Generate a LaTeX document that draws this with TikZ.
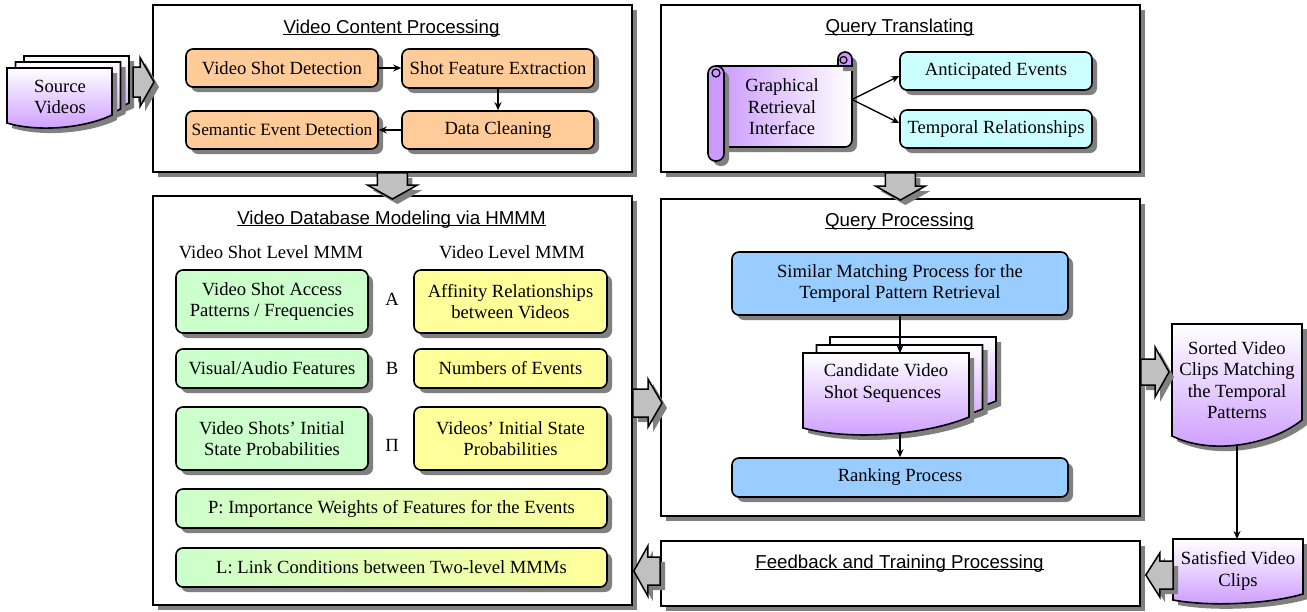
\documentclass[tikz,border=0pt]{standalone}
\usepackage{fontspec}
\setmainfont{Liberation Serif}
\newfontfamily\titlefont{Liberation Sans}
\usetikzlibrary{shadows,calc,arrows.meta}

\definecolor{boxorange}{HTML}{FFCC99}
\definecolor{boxcyan}{HTML}{CCFFFF}
\definecolor{boxgreen}{HTML}{CCFFCC}
\definecolor{boxyellow}{HTML}{FFFF99}
\definecolor{boxblue}{HTML}{99CCFF}
\definecolor{docpurple}{HTML}{CC99FF}
\definecolor{arrowgray}{HTML}{C0C0C0}
\definecolor{shadowgray}{HTML}{808080}

\newcommand\bodyfont{\fontsize{18.6pt}{21.5pt}\selectfont}
\newcommand\smallbodyfont{\fontsize{17.3pt}{20pt}\selectfont}
\newcommand\headfont{\titlefont\fontsize{18.7pt}{22pt}\selectfont}

\tikzset{
  sh/.style={drop shadow={shadow xshift=5pt,shadow yshift=-5pt,opacity=1,fill=shadowgray}},
  panel/.style={draw,line width=1.8pt,fill=white,sh,anchor=north west,minimum width=479pt},
  box/.style={draw,line width=1.6pt,rounded corners=7pt,align=center,font=\bodyfont,inner sep=2pt,sh},
  title/.style={font=\headfont,inner sep=0pt,anchor=base},
  uline/.style={line width=1.2pt},
  plain/.style={font=\bodyfont,inner sep=0pt,align=center},
  region/.style={inner sep=0pt,outer sep=0pt,draw=none},
  conn/.style={line width=1.3pt,-{Stealth[length=8pt,width=7pt]}},
  docfill/.style={draw,line width=1.6pt,top color=white,bottom color=docpurple,sh},
  scrollpart/.style={draw,line width=1.6pt,sh},
  blockarrow/.style={draw,line width=1.5pt,fill=arrowgray,line join=miter,sh},
}

% document sheet with a wavy lower edge: x1, x2, top, lower-left y, wave size
\newcommand\docsheet[5]{%
  \path[docfill] ({#1},{#3}) -- ({#2},{#3}) -- ({#2},{#4-#5})
    .. controls ({#1+0.75*(#2-#1)},{#4+0.6*#5}) and ({#1+0.3*(#2-#1)},{#4+1.2*#5}) .. ({#1},{#4}) -- cycle;}

% wide block arrows: from, to, centre line (y), shaft half width, head half width
\newcommand\blockright[5]{%
  \path[blockarrow] let \p1=(#1), \p2=(#2), \p3=(0,#3) in
    (\x1,\y3+#4pt) -- (\x2-14pt,\y3+#4pt) -- (\x2-14pt,\y3+#5pt) -- (\x2,\y3)
    -- (\x2-14pt,\y3-#5pt) -- (\x2-14pt,\y3-#4pt) -- (\x1,\y3-#4pt) -- cycle;}
\newcommand\blockleft[5]{%
  \path[blockarrow] let \p1=(#1), \p2=(#2), \p3=(0,#3) in
    (\x1,\y3+#4pt) -- (\x2+14pt,\y3+#4pt) -- (\x2+14pt,\y3+#5pt) -- (\x2,\y3)
    -- (\x2+14pt,\y3-#5pt) -- (\x2+14pt,\y3-#4pt) -- (\x1,\y3-#4pt) -- cycle;}
\newcommand\blockdown[4]{%
  \path[blockarrow] let \p1=(#1), \p2=(#2) in
    (\x1-#3pt,\y1) -- (\x1-#3pt,\y2+14pt) -- (\x1-#4pt,\y2+14pt) -- (\x1,\y2)
    -- (\x1+#4pt,\y2+14pt) -- (\x1+#3pt,\y2+14pt) -- (\x1+#3pt,\y1) -- cycle;}

\begin{document}
\begin{tikzpicture}[x=1pt,y=-1pt]
\useasboundingbox (0,0) rectangle (1307,611);

% ---------- panels ----------
\node[panel,minimum height=167pt] (vcp) at (152,4) {};
\node[panel,minimum height=167pt] (qt)  at (660,4) {};
\node[panel,minimum height=409pt] (vdm) at (152,195) {};
\node[panel,minimum height=317pt] (qp)  at (660,198) {};
\node[panel,minimum height=65pt]  (fb)  at (660,540) {};

\node[title] (vcpT) at (391.5,33) {Video Content Processing};
\node[title] (qtT)  at (899.5,32.5) {Query Translating};
\node[title] (vdmT) at (391.5,224) {Video Database Modeling via HMMM};
\node[title] (qpT)  at (899.5,226.5) {Query Processing};
\node[title] (fbT)  at (899.5,568) {Feedback and Training Processing};
\foreach \t in {vcpT,qtT,vdmT,qpT,fbT}
  \draw[uline] ([yshift=-1.6pt]\t.base west) -- ([yshift=-1.6pt]\t.base east);

% ---------- video content processing ----------
\node[box,fill=boxorange,minimum width=192pt,minimum height=38pt] (vsd) at (282,68) {Video Shot Detection};
\node[box,fill=boxorange,minimum width=192pt,minimum height=39pt] (sfe) at (498,68.5) {Shot Feature Extraction};
\node[box,fill=boxorange,minimum width=192pt,minimum height=38pt,font=\smallbodyfont] (sed) at (282,130) {Semantic Event Detection};
\node[box,fill=boxorange,minimum width=192pt,minimum height=38pt] (dc) at (498,130) {Data Cleaning};
\draw[conn] (vsd.east) -- (vsd.east -| sfe.west);
\draw[conn] (sfe.south) -- (dc.north);
\draw[conn] (dc.west) -- (sed.east);

% ---------- source videos ----------
\docsheet{24}{129}{56}{111}{8}
\docsheet{15.5}{120.5}{62}{117}{8}
\docsheet{7}{112}{68}{123}{8}
\node[region,minimum width=105pt,minimum height=55pt] (src) at (59.5,95.5) {};
\node[plain] (srcT) at (60,97) {Source\\Videos};

% ---------- query translating ----------
\path[scrollpart,left color=docpurple,right color=white]
  (716,66) -- (852,66) -- (852,140) arc[start angle=0,end angle=-90,radius=7pt] -- (716,147) -- cycle;
\path[scrollpart,fill=docpurple]
  (838,66) -- (838,59) arc[start angle=180,end angle=0,radius=7pt] -- (852,66) -- cycle;
\draw[line width=1.2pt] (843.5,60) circle[radius=3.5pt];
\path[scrollpart,fill=docpurple,rounded corners=7.5pt] (708,66) rectangle (724,161);
\draw[line width=1.2pt] (716,73) circle[radius=4pt];
\node[region,minimum width=136pt,minimum height=81pt] (scroll) at (784,106.5) {};
\node[plain] (gri) at (782,107) {Graphical\\Retrieval\\Interface};

\node[box,fill=boxcyan,minimum width=192pt,minimum height=38pt] (ae) at (996,71) {Anticipated Events};
\node[box,fill=boxcyan,minimum width=192pt,minimum height=38pt] (te) at (996,129) {Temporal Relationships};
\draw[conn] ([yshift=7pt]scroll.east) -- ([yshift=-5pt]ae.west);
\draw[conn] ([yshift=7pt]scroll.east) -- ([yshift=6pt]te.west);

% ---------- video database modeling ----------
\node[plain] (hdrS) at (271,252) {Video Shot Level MMM};
\node[plain] (hdrV) at (512,252) {Video Level MMM};
\node[box,fill=boxgreen,minimum width=192pt,minimum height=63pt] (g1) at (272,301.5) {Video Shot Access\\Patterns / Frequencies};
\node[box,fill=boxyellow,minimum width=193pt,minimum height=63pt] (y1) at (510.5,301.5) {Affinity Relationships\\between Videos};
\node[box,fill=boxgreen,minimum width=192pt,minimum height=39pt] (g2) at (272,368.5) {Visual/Audio Features};
\node[box,fill=boxyellow,minimum width=193pt,minimum height=39pt] (y2) at (510.5,368.5) {Numbers of Events};
\node[box,fill=boxgreen,minimum width=192pt,minimum height=63pt] (g3) at (272,438.5) {Video Shots’ Initial\\State Probabilities};
\node[box,fill=boxyellow,minimum width=193pt,minimum height=63pt] (y3) at (510.5,438.5) {Videos’ Initial State\\Probabilities};
\node[plain] (lblA)  at (392,299) {A};
\node[plain] (lblB)  at (392,368) {B};
\node[plain] (lblPi) at (392,445) {Π};
\node[box,left color=boxgreen,right color=boxyellow,minimum width=431pt,minimum height=39pt] (pw) at (391.5,508.5) {P: Importance Weights of Features for the Events};
\node[box,left color=boxgreen,right color=boxyellow,minimum width=431pt,minimum height=39pt] (lc) at (391.5,567.5) {L: Link Conditions between Two-level MMMs};

% ---------- query processing ----------
\node[box,fill=boxblue,minimum width=336pt,minimum height=63pt] (sim) at (900,283.5) {Similar Matching Process for the\\Temporal Pattern Retrieval};
\docsheet{830}{996}{337}{412}{11}
\docsheet{816.5}{982.5}{345}{420}{11}
\docsheet{803}{969}{353}{428}{11}
\node[region,minimum width=166pt,minimum height=80pt] (cand) at (886,393) {};
\node[plain,align=left] (candT) at (886,383) {Candidate Video\\Shot Sequences};
\node[box,fill=boxblue,minimum width=336pt,minimum height=39pt] (rank) at (900,477.5) {Ranking Process};
\draw[conn] (sim.south) -- (sim.south |- cand.north);
\draw[conn] (cand.south -| rank.north) -- (rank.north);

% ---------- results ----------
\docsheet{1172}{1302}{324}{436}{16}
\node[region,minimum width=130pt,minimum height=120pt] (sorted) at (1237,384) {};
\node[plain] (sortedT) at (1237,380) {Sorted Video\\Clips Matching\\the Temporal\\Patterns};
\docsheet{1173}{1303}{539}{600}{6}
\node[region,minimum width=130pt,minimum height=63pt] (sat) at (1238,570.5) {};
\node[plain] (satT) at (1238,571) {Satisfied Video\\Clips};
\draw[conn] (sorted.south) -- (sorted.south |- sat.north);

% ---------- block arrows between stages ----------
\blockright{[xshift=21pt]src.east}{[xshift=2pt]vcp.west}{82}{15}{24.5}
\blockdown{vcp.south}{[yshift=-4pt]vdm.north}{15}{25}
\blockdown{qt.south}{[yshift=-2pt]qp.north}{15}{25}
\blockright{vdm.east}{[xshift=2pt]qp.west}{403}{14}{24}
\blockright{qp.east}{[xshift=-3pt]sorted.west}{372}{13}{25}
\blockleft{sat.west}{[xshift=5pt]fb.east}{575}{14}{22}
\blockleft{fb.west}{[xshift=1pt]vdm.east}{571}{14}{25}
\end{tikzpicture}
\end{document}
